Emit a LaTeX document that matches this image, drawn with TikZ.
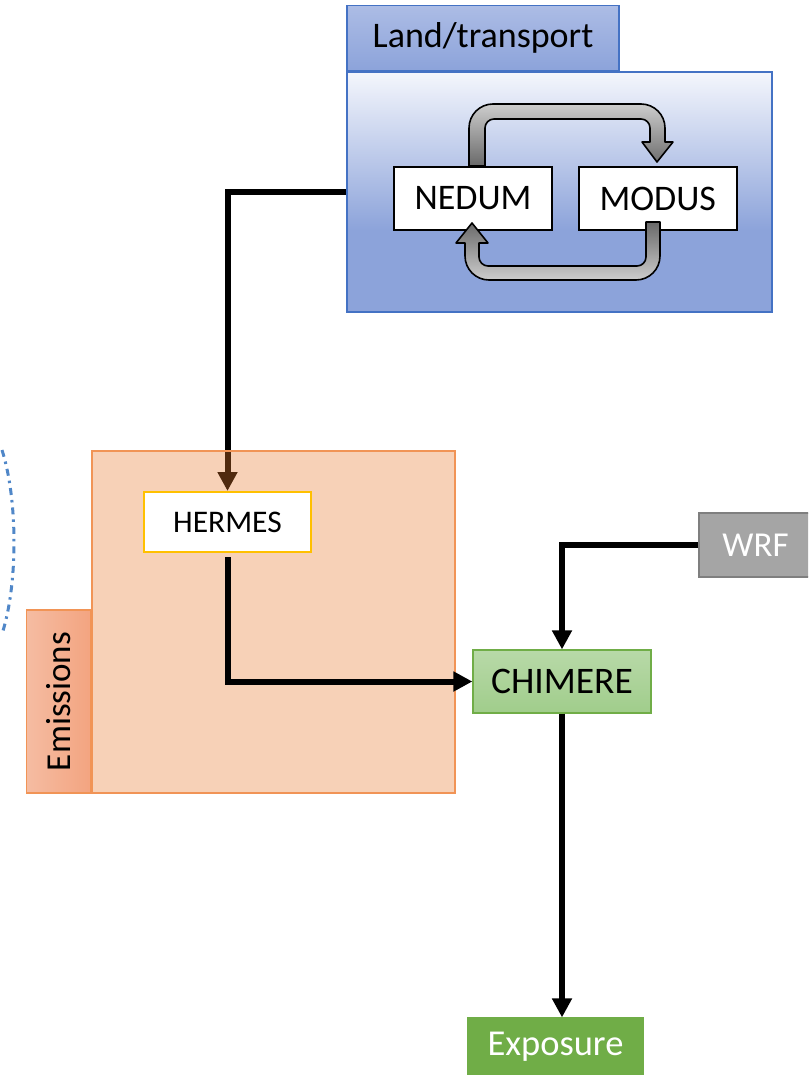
\documentclass[tikz,border=0pt]{standalone}
\usepackage{fontspec}
\setmainfont{Carlito}
\usetikzlibrary{positioning,arrows.meta,backgrounds}

\definecolor{landtop}{RGB}{244,246,252}
\definecolor{landbot}{RGB}{140,163,218}
\definecolor{labtop}{RGB}{172,188,229}
\definecolor{labbot}{RGB}{140,163,218}
\definecolor{landedge}{RGB}{68,114,196}
\definecolor{emisfill}{RGB}{232,122,46}
\definecolor{emisedge}{RGB}{241,148,86}
\definecolor{emisleft}{RGB}{245,188,162}
\definecolor{emisright}{RGB}{243,164,128}
\definecolor{hermesedge}{RGB}{255,192,0}
\definecolor{chimtop}{RGB}{184,217,168}
\definecolor{chimbot}{RGB}{160,205,139}
\definecolor{greenedge}{RGB}{112,173,71}
\definecolor{wrffill}{RGB}{165,165,165}
\definecolor{wrfedge}{RGB}{127,127,127}
\definecolor{arrowlight}{RGB}{205,205,205}
\definecolor{arrowdark}{RGB}{105,105,105}
\definecolor{arcblue}{RGB}{80,135,200}

% light at the top, even blue in the lower third
\pgfdeclareverticalshading{landshade}{100bp}{color(0bp)=(landbot); color(42bp)=(landbot); color(75bp)=(landtop); color(100bp)=(landtop)}

\begin{document}
\begin{tikzpicture}[x=1pt,y=-1pt,
  box/.style={draw, rectangle, inner sep=0pt, line width=1.2pt},
  modelbox/.style={box, fill=white, line width=1.8pt, minimum width=158pt, minimum height=63pt, font=\fontsize{36}{40}\selectfont},
  flowline/.style={line width=6pt, -{Triangle[width=19pt,length=19pt]}},
  cyclearrow/.style={draw=black, line width=1.6pt, line join=round}]

\useasboundingbox (0,0) rectangle (808,1075);
\clip (0,0) rectangle (808,1075);

% edge of a circle cut off on the left
\draw[arcblue, line width=3pt, dash pattern=on 7pt off 5pt on 2.5pt off 5pt] (2,450) .. controls (18,500) and (18,585) .. (2,634);


% land use / transport block
\node[box, draw=landedge, shading=landshade, minimum width=425pt, minimum height=240pt] (land) at (559.5,192) {};
\node[box, draw=landedge, top color=labtop, bottom color=labbot, minimum width=272pt, minimum height=65pt, font=\fontsize{36}{40}\selectfont, above right=0pt of land.north west] (landlabel) {Land/transport};

\node[modelbox] (nedum) at (473,198.5) {NEDUM};
\node[modelbox, right=25pt of nedum] (modus) {MODUS};

%NEDUM -> MODUS
\draw[cyclearrow, top color=arrowlight, bottom color=arrowdark]
  (469,166) [rounded corners=24pt] -- (469,104) -- (665,104) [sharp corners] -- (665,142) -- (673,142) -- (657,162) -- (642,142) -- (650,142) [rounded corners=9pt] -- (650,119) -- (485,119) [sharp corners] -- (485,166) -- cycle;
%MODUS -> NEDUM
\draw[cyclearrow, top color=arrowdark, bottom color=arrowlight]
  (660,222) [rounded corners=24pt] -- (660,280) -- (465,280) [sharp corners] -- (465,243) -- (456,243) -- (472,223) -- (488,243) -- (479,243) [rounded corners=9pt] -- (479,266) -- (646,266) [sharp corners] -- (646,222) -- cycle;


% emissions block
\node[box, draw=emisedge, fill=emisfill, fill opacity=0.345, minimum width=363pt, minimum height=342pt] (emis) at (273.5,622) {};
\node[box, draw=emisedge, left color=emisleft, right color=emisright, minimum width=64pt, minimum height=183pt, font=\fontsize{35}{40}\selectfont, anchor=south east] (emislabel) at (emis.south west) {\rotatebox{90}{Emissions}};

\node[box, draw=hermesedge, fill=white, line width=2pt, minimum width=167pt, minimum height=60pt, font=\fontsize{31.5}{35}\selectfont] (hermes) at (227.5,522) {HERMES};


\node[box, draw=greenedge, top color=chimtop, bottom color=chimbot, minimum width=178pt, minimum height=63pt, font=\fontsize{37.5}{42}\selectfont] (chimere) at (562,681.5) {CHIMERE};
\node[box, draw=wrfedge, fill=wrffill, text=white, minimum width=113pt, minimum height=64pt, font=\fontsize{35}{40}\selectfont] (wrf) at (755.5,545) {WRF};
\node[box, draw=greenedge, fill=greenedge, text=white, minimum width=175pt, minimum height=57pt, font=\fontsize{36.5}{40}\selectfont] (exposure) at (555.5,1046.5) {Exposure};


\begin{scope}[on background layer]
\draw[flowline] (land.west) -| (hermes.north);   %seen through the emissions box
\end{scope}
\draw[flowline] ([yshift=-4pt]hermes.south) |- (chimere.west);
\draw[flowline] (wrf.west) -| (chimere.north);
\draw[flowline] (chimere.south) -- (exposure.north -| chimere.south);

\end{tikzpicture}
\end{document}
